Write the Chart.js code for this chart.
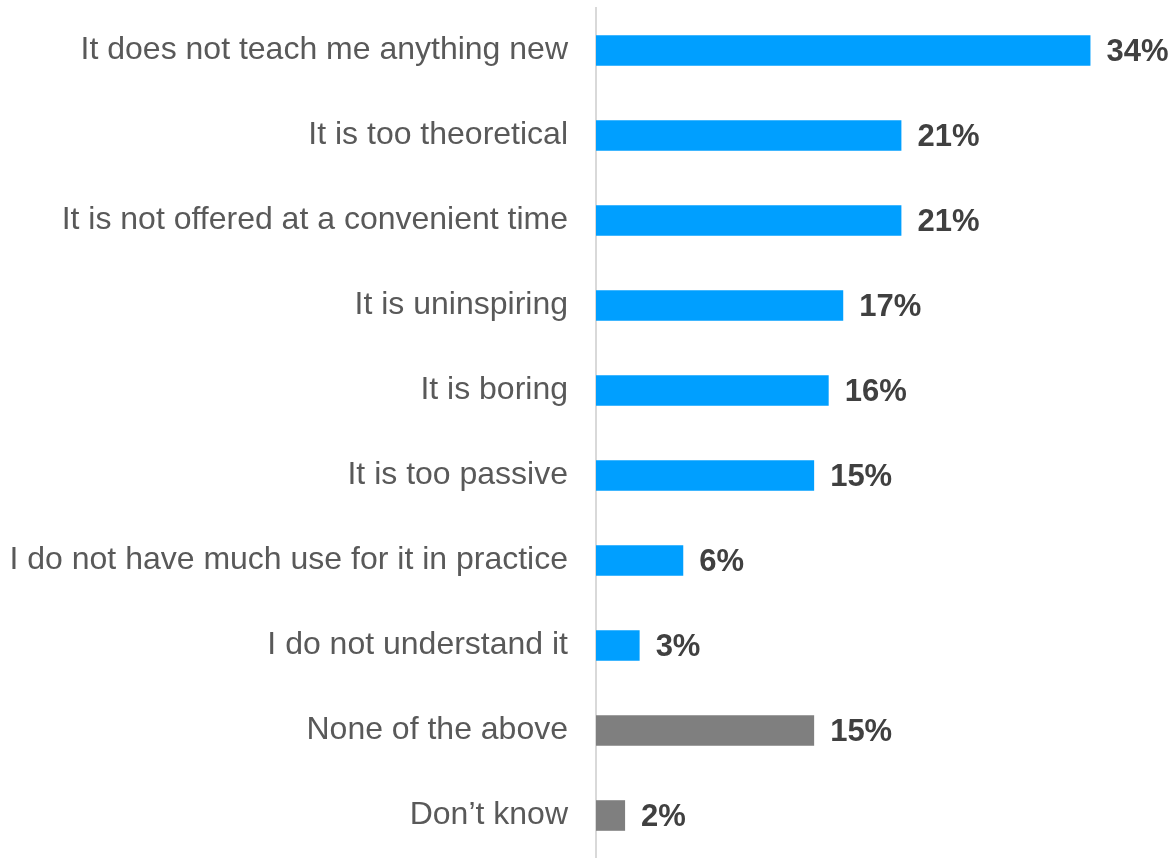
<!DOCTYPE html>
<html>
<head>
<meta charset="utf-8">
<script src="https://cdn.jsdelivr.net/npm/chart.js@4.4.1/dist/chart.umd.min.js"></script>
<style>
    html, body { margin: 0; padding: 0; background: #ffffff; }
    #wrap { width: 1173px; height: 858px; position: relative; }
</style>
</head>
<body>
<div id="wrap"><canvas id="chart"></canvas></div>
<script>
// Chart data
const categories = [
    'It does not teach me anything new',
    'It is too theoretical',
    'It is not offered at a convenient time',
    'It is uninspiring',
    'It is boring',
    'It is too passive',
    'I do not have much use for it in practice',
    'I do not understand it',
    'None of the above',
    'Don\u2019t know'
];
const shares = [34, 21, 21, 17, 16, 15, 6, 3, 15, 2];
const barColors = [
    '#009fff', '#009fff', '#009fff', '#009fff', '#009fff',
    '#009fff', '#009fff', '#009fff', '#7f7f7f', '#7f7f7f'
];

// Draws the "34%" style labels at the end of each bar
const valueLabels = {
    id: 'valueLabels',
    afterDatasetsDraw(chart) {
        const ctx = chart.ctx;
        const meta = chart.getDatasetMeta(0);
        ctx.save();
        ctx.font = 'bold 31px "Liberation Sans", Arial, sans-serif';
        ctx.fillStyle = '#404040';
        ctx.textAlign = 'left';
        ctx.textBaseline = 'middle';
        meta.data.forEach((bar, i) => {
            ctx.fillText(shares[i] + '%', bar.x + 16, bar.y + 2);
        });
        ctx.restore();
    }
};

new Chart(document.getElementById('chart'), {
    type: 'bar',
    data: {
        labels: categories,
        datasets: [{
            data: shares,
            backgroundColor: barColors,
            borderWidth: 0,
            barPercentage: 0.36,
            categoryPercentage: 1
        }]
    },
    options: {
        indexAxis: 'y',
        responsive: true,
        maintainAspectRatio: false,
        animation: false,
        layout: {
            padding: { top: 8, right: 68, bottom: -3, left: 0 }
        },
        plugins: {
            legend: { display: false },
            tooltip: { enabled: false }
        },
        scales: {
            x: {
                display: false,
                min: 0,
                max: 35
            },
            y: {
                grid: { display: false },
                border: { display: true, color: '#d9d9d9', width: 2 },
                ticks: {
                    padding: 20,
                    color: '#595959',
                    font: { family: '"Liberation Sans", Arial, sans-serif', size: 32 }
                },
                afterFit(scale) {
                    // keep the axis at x=596 and let the bars use the full height
                    scale.width = 596;
                    scale.paddingTop = 0;
                    scale.paddingBottom = 0;
                }
            }
        }
    },
    plugins: [valueLabels]
});
</script>
</body>
</html>
